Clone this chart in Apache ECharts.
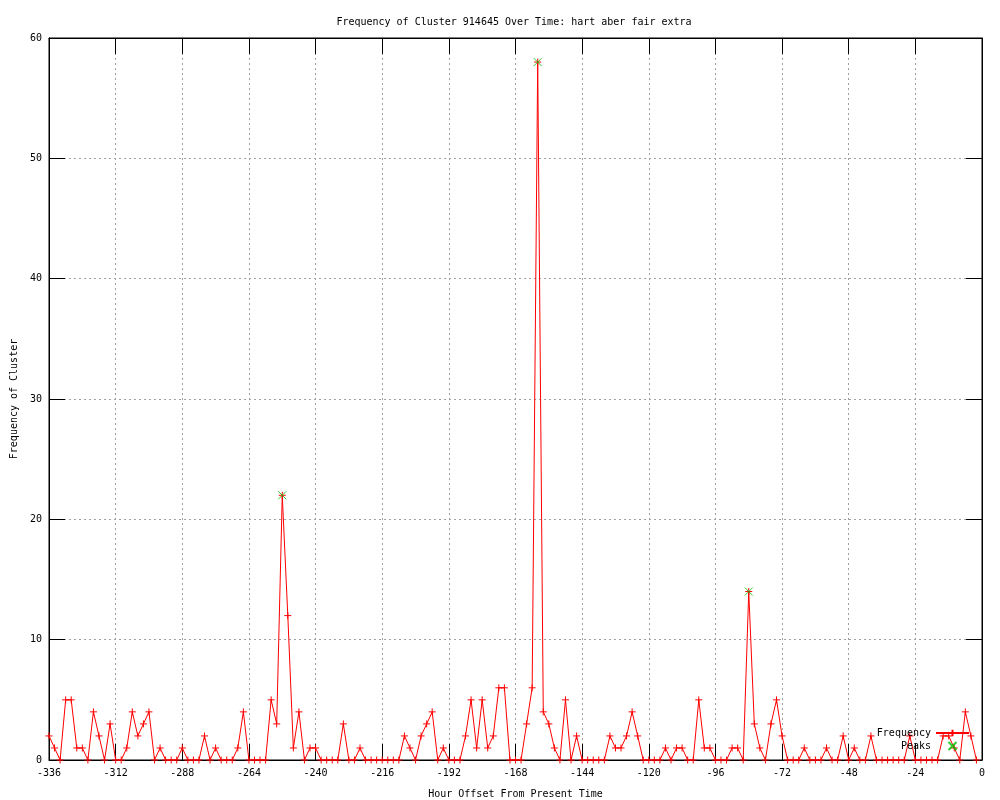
<!DOCTYPE html>
<html>
<head>
<meta charset="utf-8">
<script src="https://cdn.jsdelivr.net/npm/echarts@6/dist/echarts.min.js"></script>
<style>
html,body{margin:0;padding:0;background:#fff;}
#chart{width:1000px;height:800px;}
</style>
</head>
<body>
<div id="chart"></div>
<script>
// Hour offsets: -336, -334, ..., -2 (every 2 hours)
const startHour = -336;
const stepHours = 2;
const frequency = [
  2,1,0,5,5,1,1,0,4,2,
  0,3,0,0,1,4,2,3,4,0,
  1,0,0,0,1,0,0,0,2,0,
  1,0,0,0,1,4,0,0,0,0,
  5,3,22,12,1,4,0,1,1,0,
  0,0,0,3,0,0,1,0,0,0,
  0,0,0,0,2,1,0,2,3,4,
  0,1,0,0,0,2,5,1,5,1,
  2,6,6,0,0,0,3,6,58,4,
  3,1,0,5,0,2,0,0,0,0,
  0,2,1,1,2,4,2,0,0,0,
  0,1,0,1,1,0,0,5,1,1,
  0,0,0,1,1,0,14,3,1,0,
  3,5,2,0,0,0,1,0,0,0,
  1,0,0,2,0,1,0,0,2,0,
  0,0,0,0,0,2,0,0,0,0,
  0,2,2,1,0,4,2,0
];
const peakHours = [-252, -160, -84];
const peakValues = [22, 58, 14];

const titleText = 'Frequency of Cluster 914645 Over Time: hart aber fair extra';
const xLabel = 'Hour Offset From Present Time';
const yLabel = 'Frequency of Cluster';

const freqData = frequency.map((v, i) => [startHour + i * stepHours, v]);
const peakData = peakHours.map((h, i) => [h, peakValues[i]]);

const FONT = 'DejaVu Sans Mono';
const plusSym = 'path://M0,5L10,5M5,0L5,10';
const xSym = 'path://M0,0L10,10M10,0L0,10';

const tickStyle = {show: true, inside: true, length: 16, lineStyle: {color: '#000', width: 1}};
const gridLine = {show: true, lineStyle: {color: '#a0a0a0', width: 1, type: [2, 3]}};
const axisLineStyle = {show: true, onZero: false, lineStyle: {color: '#000', width: 1}};

const chart = echarts.init(document.getElementById('chart'), null, {renderer: 'canvas'});
chart.setOption({
  animation: false,
  backgroundColor: '#fff',
  title: {
    text: titleText,
    left: 509, top: 12, textAlign: 'center',
    textStyle: {fontFamily: FONT, fontSize: 10, fontWeight: 'normal', color: '#000'}
  },
  legend: {
    orient: 'vertical',
    right: 30, top: 728,
    padding: 0,
    align: 'right',
    itemWidth: 33, itemHeight: 8,
    itemGap: 3,
    textStyle: {fontFamily: FONT, fontSize: 10, color: '#000'},
    data: ['Frequency', 'Peaks']
  },
  grid: {left: 49, right: 18, top: 38, bottom: 40, show: true, borderColor: '#000', borderWidth: 1,
         backgroundColor: 'transparent', containLabel: false, outerBoundsMode: 'none'},
  xAxis: [{
    type: 'value', min: -336, max: 0, interval: 24, position: 'bottom',
    name: xLabel, nameLocation: 'middle', nameGap: 29,
    nameTextStyle: {fontFamily: FONT, fontSize: 10, color: '#000'},
    axisLine: axisLineStyle,
    axisTick: tickStyle,
    axisLabel: {fontFamily: FONT, fontSize: 10, color: '#000', margin: 8},
    splitLine: gridLine
  }, {
    type: 'value', min: -336, max: 0, interval: 24, position: 'top',
    axisLine: axisLineStyle,
    axisTick: tickStyle, axisLabel: {show: false}, splitLine: {show: false}
  }],
  yAxis: [{
    type: 'value', min: 0, max: 60, interval: 10, position: 'left',
    name: yLabel, nameLocation: 'middle', nameGap: 30,
    nameTextStyle: {fontFamily: FONT, fontSize: 10, color: '#000'},
    axisLine: axisLineStyle,
    axisTick: tickStyle,
    axisLabel: {fontFamily: FONT, fontSize: 10, color: '#000', margin: 7},
    splitLine: gridLine
  }, {
    type: 'value', min: 0, max: 60, interval: 10, position: 'right',
    axisLine: axisLineStyle,
    axisTick: tickStyle, axisLabel: {show: false}, splitLine: {show: false}
  }],
  series: [{
    name: 'Frequency',
    type: 'line',
    data: freqData,
    showSymbol: true, showAllSymbol: true,
    symbol: plusSym, symbolSize: 7,
    lineStyle: {color: '#ff0000', width: 1},
    itemStyle: {color: '#ff0000', borderColor: '#ff0000', borderWidth: 1},
    clip: false,
    z: 3
  }, {
    name: 'Peaks',
    type: 'scatter',
    data: peakData,
    symbol: xSym, symbolSize: 8,
    itemStyle: {color: '#00c000', borderColor: '#00c000', borderWidth: 1},
    z: 4
  }]
});
</script>
</body>
</html>
